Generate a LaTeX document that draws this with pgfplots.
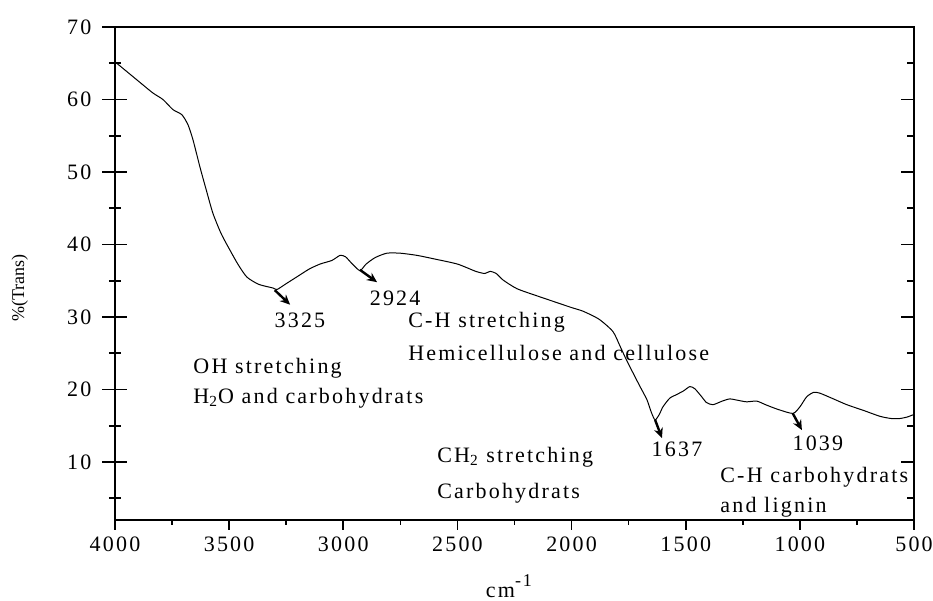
\documentclass[border=0pt]{standalone}
\usepackage{fontspec}
\setmainfont{Liberation Serif}[LetterSpace=10]
\newfontfamily\plainserif{Liberation Serif}
\usepackage{pgfplots}
\pgfplotsset{compat=1.18}
\usetikzlibrary{arrows.meta}

\pgfplotsset{
  ftir/.style={
    width=399.5pt, height=246.5pt, scale only axis,
    xmin=500, xmax=4000, ymin=2, ymax=70,
    x dir=reverse,
    axis line style={line width=0.8pt},
    every tick/.style={black, line width=0.8pt},
    /pgf/number format/assume math mode=true,
    /pgf/number format/1000 sep={},
    tick label style={font=\fontsize{11}{13}\selectfont},
  },
}

\begin{document}
\begin{tikzpicture}[font=\fontsize{11}{13}\selectfont]
% right-hand ticks, pointing inwards
\begin{axis}[ftir,
  xtick=\empty, ytick={10,20,...,70}, minor ytick={5,15,...,65},
  ytick pos=right, yticklabels={}, tick align=inside,
  major tick length=6.5pt, minor tick length=3.5pt]
\end{axis}
% left-hand ticks, across the axis line
\begin{axis}[ftir,
  xtick=\empty, ytick={10,20,...,70}, minor ytick={5,15,...,65},
  ytick pos=left, tick align=center,
  major tick length=12.5pt, minor tick length=6pt,
  yticklabel style={xshift=-2pt},
  ylabel={\plainserif\fontsize{9}{11}\selectfont \%(Trans)},
  every axis y label/.style={at={(axis description cs:-0.119,0.47)}, rotate=90,
    anchor=center}]
\end{axis}
% main axis: bottom ticks, curve and notes
\begin{axis}[ftir, name=ax,
  xtick={500,1000,...,4000}, minor xtick={750,1250,...,3750},
  xtick pos=bottom, ytick=\empty, tick align=outside,
  major tick length=5pt, minor tick length=2.5pt,
  xlabel={cm\raisebox{1.1ex}{\fontsize{9}{11}\selectfont -1}},
  every axis x label/.style={at={(axis description cs:0.493,0)},
    anchor=north, yshift=-27pt, inner sep=0pt},
  clip=false]
\addplot[black, line width=0.5pt, smooth, tension=0.4] coordinates {
(4000,65.2) (3900,62.6) (3834,60.9) (3790,60.0) (3746,58.6) (3707,57.9)
(3680,56.5) (3658,54.4) (3628,50.7) (3600,47.5) (3571,44.3) (3535,41.5)
(3496,39.2) (3460,37.2) (3422,35.5) (3370,34.5) (3308,34.0) (3290,33.8)
(3250,34.6) (3200,35.6) (3150,36.6) (3102,37.3) (3050,37.8) (3014,38.5)
(2990,38.3) (2960,37.3) (2927,36.4) (2900,37.3) (2860,38.2) (2809,38.8)
(2750,38.8) (2677,38.5) (2600,38.0) (2500,37.3) (2420,36.3) (2380,36.0)
(2357,36.3) (2330,36.0) (2300,35.1) (2239,33.9) (2150,32.9) (2094,32.3)
(2000,31.3) (1950,30.8) (1880,29.7) (1819,28.0) (1788,26.0) (1760,24.1)
(1731,22.3) (1700,20.4) (1670,18.6) (1650,16.8) (1634,15.8) (1615,16.6)
(1600,17.6) (1570,18.8) (1540,19.3) (1510,19.8) (1482,20.4) (1460,20.1)
(1430,19.0) (1409,18.2) (1381,17.9) (1340,18.4) (1307,18.7) (1270,18.5)
(1233,18.3) (1189,18.4) (1150,17.9) (1100,17.3) (1031,16.7) (1000,17.6)
(970,19.0) (940,19.6) (913,19.5) (860,18.8) (794,17.9) (720,17.1)
(649,16.3) (600,16.0) (562,16.0) (530,16.2) (505,16.5)
};
% arrows at the bands
\draw[-{Stealth[length=5pt,width=4.5pt]}, line width=1.2pt] (axis cs:3300,33.7) -- (axis cs:3233,31.7);
\draw[-{Stealth[length=5pt,width=4.5pt]}, line width=1.2pt] (axis cs:2927,36.5) -- (axis cs:2852,34.8);
\draw[-{Stealth[length=5pt,width=4.5pt]}, line width=1.2pt] (axis cs:1634,15.8) -- (axis cs:1604,13.3);
\draw[-{Stealth[length=5pt,width=4.5pt]}, line width=1.2pt] (axis cs:1031,16.7) -- (axis cs:991,14.4);
% band labels
\node at (axis cs:3190,29.6) {3325};
\node at (axis cs:2773,32.6) {2924};
\node at (axis cs:1538,11.7) {1637};
\node at (axis cs:921,12.6) {1039};
\node[anchor=west, inner sep=0pt] at (axis cs:2717,29.3) {C-H stretching};
\node[anchor=west, inner sep=0pt] at (axis cs:2717,25.0) {Hemicellulose and cellulose};
\node[anchor=west, inner sep=0pt] at (axis cs:3658,23.0) {OH stretching};
\node[anchor=west, inner sep=0pt] at (axis cs:3658,18.8) {H\textsubscript{2}O and carbohydrats};
\node[anchor=west, inner sep=0pt] at (axis cs:2590,10.7) {CH\textsubscript{2} stretching};
\node[anchor=west, inner sep=0pt] at (axis cs:2590,5.7) {Carbohydrats};
\node[anchor=west, inner sep=0pt] at (axis cs:1350,7.9) {C-H carbohydrats};
\node[anchor=west, inner sep=0pt] at (axis cs:1350,3.7) {and lignin};
\end{axis}
\pgfresetboundingbox
\path ([xshift=-57.5pt,yshift=-40.5pt]ax.south west) rectangle ([xshift=9.5pt,yshift=13.5pt]ax.north east);
\end{tikzpicture}
\end{document}
